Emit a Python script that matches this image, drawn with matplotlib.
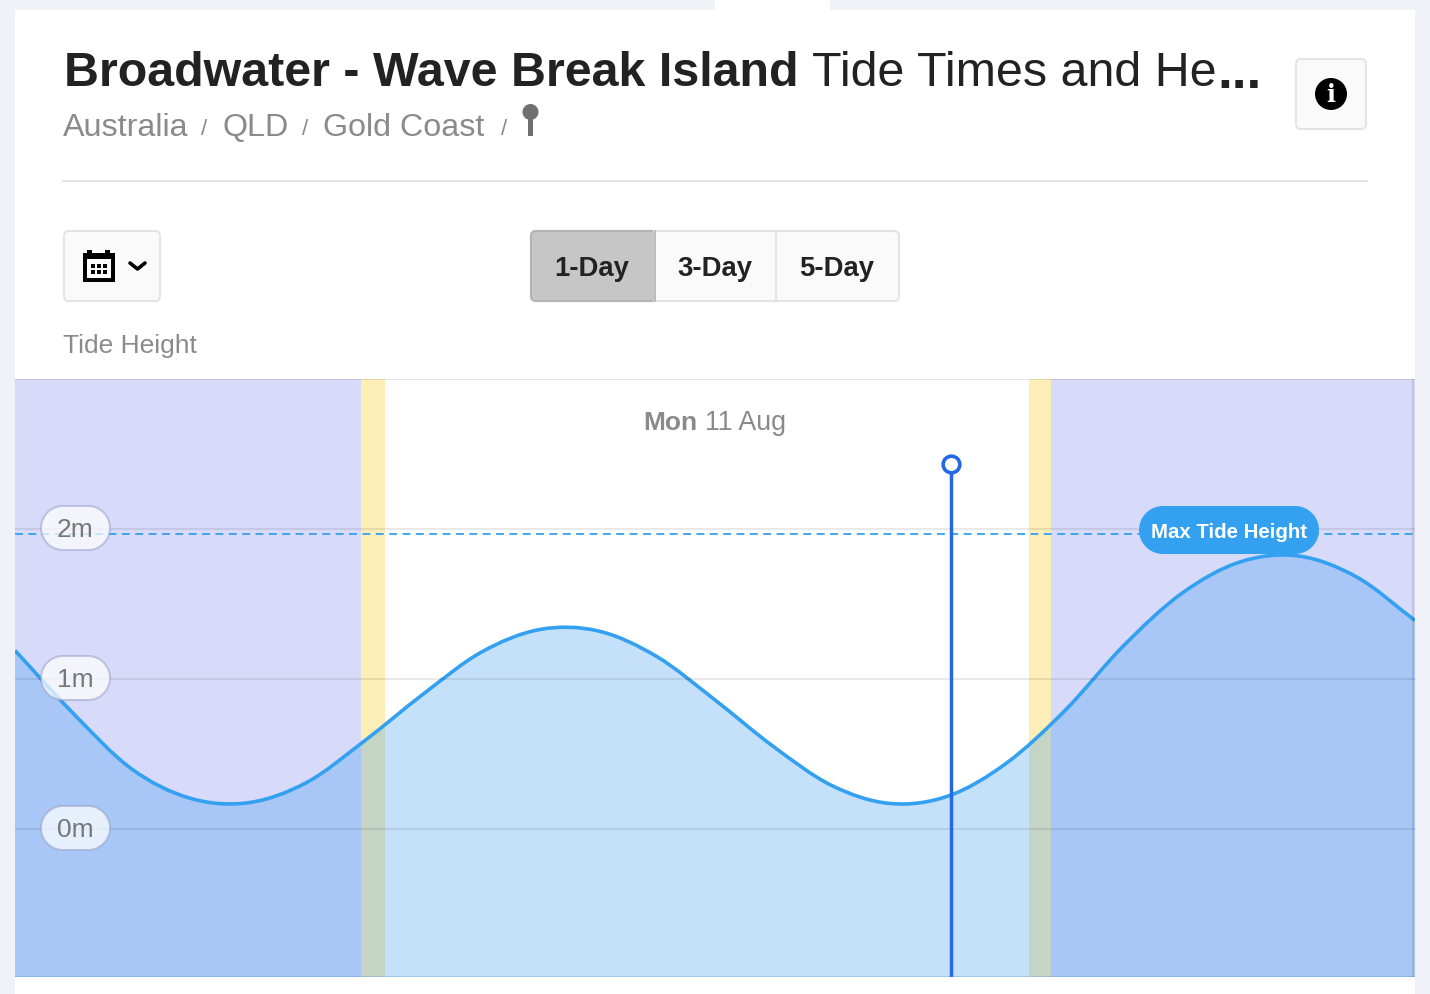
import numpy as np
import matplotlib
matplotlib.use("Agg")
import matplotlib.pyplot as plt
from matplotlib.patches import FancyBboxPatch, Rectangle, Circle, Polygon, PathPatch
from matplotlib.path import Path

plt.rcParams['font.family'] = ['Liberation Sans', 'DejaVu Sans']

# tide height, one value per hour
hours = [0, 1, 2, 3, 4, 5, 6, 7, 8, 9, 10, 11, 12, 13, 14, 15, 16, 17, 18, 19, 20, 21, 22, 23, 24]
tide = [1.19, 0.77, 0.40, 0.205, 0.175, 0.31, 0.59, 0.90, 1.18, 1.33, 1.32, 1.15, 0.86, 0.55,
        0.29, 0.17, 0.22, 0.44, 0.79, 1.22, 1.57, 1.78, 1.82, 1.68, 1.39]

first_light = 5.93
sunrise = 6.34
sunset = 17.38
last_light = 17.76
day_end = 24
now_hour = 16.04
max_tide = 1.967
y_ticks = [0, 1, 2]
y_labels = ['0m', '1m', '2m']
y_min = -0.987
y_max = 3.0

W, H = 1430, 994
BG = '#f0f2f7'
LINE = '#33a0f0'
NOW = '#2468e6'

fig = plt.figure(figsize=(W / 100, H / 100), dpi=100, facecolor=BG)


def pixel_axes(z):
    a = fig.add_axes([0, 0, 1, 1], zorder=z)
    a.set_xlim(0, W)
    a.set_ylim(H, 0)
    a.axis('off')
    return a


def box(a, x0, y0, x1, y1, r, **kw):
    p = FancyBboxPatch((x0 + r, y0 + r), x1 - x0 - 2 * r, y1 - y0 - 2 * r,
                       boxstyle='round,pad=%g,rounding_size=%g' % (r, r), **kw)
    a.add_patch(p)
    return p


def pill(a, x0, y0, x1, y1, **kw):
    r = (y1 - y0) / 2
    t = np.linspace(-np.pi / 2, np.pi / 2, 30)
    right = np.column_stack([x1 - r + r * np.cos(t), (y0 + y1) / 2 + r * np.sin(t)])
    left = np.column_stack([x0 + r - r * np.cos(t), (y0 + y1) / 2 - r * np.sin(t)])
    a.add_patch(Polygon(np.vstack([right, left]), closed=True, **kw))


def smooth_path(xs, ys):
    # same kind of smooth line the site draws through its points
    xs = np.array(xs, float)
    ys = np.array(ys, float)
    dy = np.gradient(ys, xs)
    verts = [(xs[0], ys[0])]
    codes = [Path.MOVETO]
    for i in range(len(xs) - 1):
        h = xs[i + 1] - xs[i]
        verts += [(xs[i] + h / 3, ys[i] + dy[i] * h / 3),
                  (xs[i + 1] - h / 3, ys[i + 1] - dy[i + 1] * h / 3),
                  (xs[i + 1], ys[i + 1])]
        codes += [Path.CURVE4] * 3
    return verts, codes


# page
ui = pixel_axes(0)
ui.add_patch(Rectangle((15, 10), 1400, 984, fc='white', ec='none'))
ui.add_patch(Rectangle((715, 0), 115, 10, fc='white', ec='none'))

ui.text(64, 69, 'Broadwater - Wave Break Island', fontsize=34.8, fontweight='bold',
        color='#222222', va='center_baseline')
ui.text(812, 69, 'Tide Times and He', fontsize=34.8, color='#222222', va='center_baseline')
ui.text(1217, 69, '...', fontsize=38.5, fontweight='bold', color='#222222', va='center_baseline')

crumbs = [('Australia', 63), ('QLD', 222), ('Gold Coast', 323)]
for name, x in crumbs:
    ui.text(x, 124, name, fontsize=23.2, color='#8a8a8a', va='center_baseline')
for x in [204, 305, 504]:
    ui.text(x, 127, '/', fontsize=16, color='#8a8a8a', ha='center', va='center_baseline')
# pin
ui.add_patch(Rectangle((528, 115), 5, 21, fc='#707070', ec='none'))
ui.add_patch(Circle((530.5, 112), 8, fc='#707070', ec='none'))

ui.plot([63, 1367], [181, 181], color='#e2e2e2', lw=1.4)

# info button
box(ui, 1296, 59, 1366, 129, 5, fc='#fafafa', ec='#e4e4e4', lw=1.5)
ui.add_patch(Circle((1331, 94), 16, fc='black', ec='none'))
ui.text(1331, 95, 'i', fontsize=17, fontweight='bold', family='DejaVu Serif', color='white',
        ha='center', va='center')

# calendar button
box(ui, 64, 231, 160, 301, 5, fc='#fafafa', ec='#e4e4e4', lw=1.5)
ui.add_patch(Rectangle((83, 253), 32, 29, fc='black', ec='none'))
ui.add_patch(Rectangle((87, 250), 5, 4, fc='black', ec='none'))
ui.add_patch(Rectangle((105, 250), 5, 4, fc='black', ec='none'))
ui.add_patch(Rectangle((87, 259), 24, 19, fc='white', ec='none'))
for cx in [91, 97, 103]:
    for cy in [264, 270]:
        ui.add_patch(Rectangle((cx, cy), 3.8, 3.8, fc='black', ec='none'))
ui.plot([130, 137.5, 145], [263, 269, 263], color='black', lw=2.6, solid_capstyle='round')

# range buttons
box(ui, 531, 231, 899, 301, 5, fc='#fafafa', ec='#e4e4e4', lw=1.5)
box(ui, 531, 231, 660, 301, 5, fc='#c6c6c6', ec='#b4b4b4', lw=1.5)
ui.add_patch(Rectangle((654, 230), 122, 72, fc='#fafafa', ec='none'))
ui.plot([654, 776], [231, 231], color='#e4e4e4', lw=1.5)
ui.plot([654, 776], [301, 301], color='#e4e4e4', lw=1.5)
ui.plot([654.5, 654.5], [231, 301], color='#b0b0b0', lw=1.2)
ui.plot([776, 776], [231, 301], color='#e2e2e2', lw=1.2)
for label, x in [('1-Day', 592), ('3-Day', 715), ('5-Day', 837)]:
    ui.text(x, 266, label, fontsize=19.8, fontweight='bold', color='#222222', ha='center',
            va='center_baseline')

ui.text(63, 344, 'Tide Height', fontsize=19, color='#8a8a8a', va='center_baseline')

# chart
ax = fig.add_axes([15 / W, (H - 977) / H, 1400 / W, 598 / H], zorder=1)
ax.set_xlim(0, day_end)
ax.set_ylim(y_min, y_max)
ax.set_xticks([])
ax.set_yticks([])
for s in ax.spines.values():
    s.set_visible(False)

NIGHT = '#d8daf9'
TWILIGHT = '#fdeeb7'
ax.axvspan(0, first_light, color=NIGHT, lw=0)
ax.axvspan(first_light, sunrise, color=TWILIGHT, lw=0)
ax.axvspan(sunset, last_light, color=TWILIGHT, lw=0)
ax.axvspan(last_light, day_end, color=NIGHT, lw=0)

verts, codes = smooth_path(hours, tide)
fill_verts = verts + [(hours[-1], y_min), (hours[0], y_min), (hours[0], tide[0])]
fill_codes = codes + [Path.LINETO, Path.LINETO, Path.CLOSEPOLY]
ax.add_patch(PathPatch(Path(fill_verts, fill_codes), fc=(50 / 255, 150 / 255, 240 / 255),
                       alpha=0.28, lw=0))
for v in y_ticks:
    ax.axhline(v, color='black', alpha=0.1, lw=1.2)
ax.axhline(max_tide, color=LINE, lw=1.3, dashes=(4.4, 3.0))
ax.add_patch(PathPatch(Path(verts, codes), fc='none', ec=LINE, lw=2.6))

ax.plot([now_hour, now_hour], [y_min, 2.43], color=NOW, lw=2.5)
ax.plot([now_hour], [2.43], 'o', ms=12, mfc='white', mec=NOW, mew=2.6, zorder=5)

ax.axhline(y_max, color='black', alpha=0.12, lw=1.2)
ax.axhline(y_min, color='#3f7fd0', alpha=0.35, lw=1.8)
ax.axvline(day_end - 0.03, color='black', alpha=0.1, lw=1.6)

# labels on top of the chart
top = pixel_axes(2)
top.patch.set_alpha(0)

top.text(643, 420, 'Mon', fontsize=19, fontweight='bold', color='#8a8a8a', va='center_baseline')
top.text(705, 420, '11 Aug', fontsize=19.3, color='#8a8a8a', va='center_baseline')

for v, lab in zip(y_ticks, y_labels):
    py = H - ax.transData.transform((0, v))[1]
    pill(top, 41, py - 23, 110, py + 21, fc=(1, 1, 1, 0.72), ec=(0.6, 0.62, 0.78, 0.55), lw=1.4)
    top.text(75, py - 1, lab, fontsize=19, color='#777777', ha='center', va='center_baseline')

pill(top, 1139, 506, 1319, 554, fc=LINE, ec='none')
top.text(1229, 531, 'Max Tide Height', fontsize=14.7, fontweight='bold', color='white',
         ha='center', va='center_baseline')

fig.savefig('out.png', dpi=100, facecolor=BG)
